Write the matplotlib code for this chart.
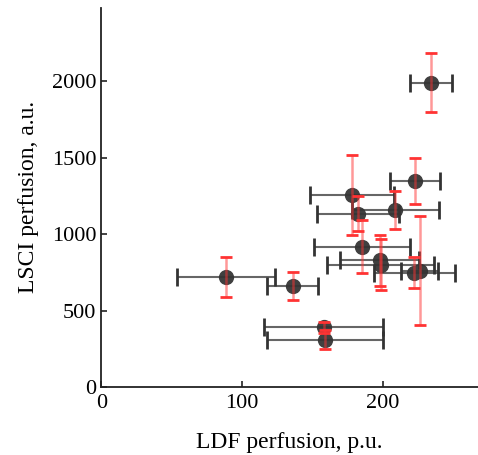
import matplotlib
matplotlib.use("Agg")
import matplotlib.pyplot as plt

# Data
ldf = [88.4, 135.7, 157.8, 158.9, 178.0, 182.2, 184.8, 197.5, 198.3, 208.7, 222.2, 222.5, 226.0, 234.1]
lsci = [718, 660, 392, 310, 1257, 1133, 917, 828, 800, 1159, 748, 1351, 762, 1993]
ldf_err = [35, 18, 42, 41, 29.6, 29, 34, 28, 38, 31, 29, 17.7, 13, 15]
lsci_err = [131, 92, 36, 61, 260, 115, 173, 166, 166, 125, 100, 150, 357, 190]

plt.rcParams['font.family'] = ['Liberation Serif', 'DejaVu Serif']

fig = plt.figure(figsize=(4.78, 4.55), dpi=100)
ax = fig.add_axes([0.212, 0.1495, 0.787, 0.834])

ax.plot(ldf, lsci, 'o', color='#404040', ms=11, zorder=2, mec='none')

ebx = ax.errorbar(ldf, lsci, xerr=ldf_err, fmt='none', ecolor='#333333',
                  elinewidth=1.5, capsize=6.8, capthick=2, zorder=3)
for lc in ebx[2]:
    lc.set_alpha(0.75)

eby = ax.errorbar(ldf, lsci, yerr=lsci_err, fmt='none', ecolor='#ff3333',
                  elinewidth=1.8, capsize=4.3, capthick=2, zorder=3)
for lc in eby[2]:
    lc.set_alpha(0.5)

ax.set_xlim(0, 267)
ax.set_ylim(0, 2484)
ax.set_xticks([0, 100, 200])
ax.set_yticks([0, 500, 1000, 1500, 2000])

for s in ['top', 'right']:
    ax.spines[s].set_visible(False)
for s in ['left', 'bottom']:
    ax.spines[s].set_linewidth(1.3)
    ax.spines[s].set_color('#222222')

ax.tick_params(direction='in', length=4.5, width=1.2, labelsize=16, colors='#222222',
               labelcolor='black')
ax.tick_params(axis='x', pad=5)
ax.set_xlabel('LDF perfusion, p.u.', fontsize=17, labelpad=14)
ax.set_ylabel('LSCI perfusion, a.u.', fontsize=17, labelpad=9)

fig.savefig('out.png', dpi=100)
